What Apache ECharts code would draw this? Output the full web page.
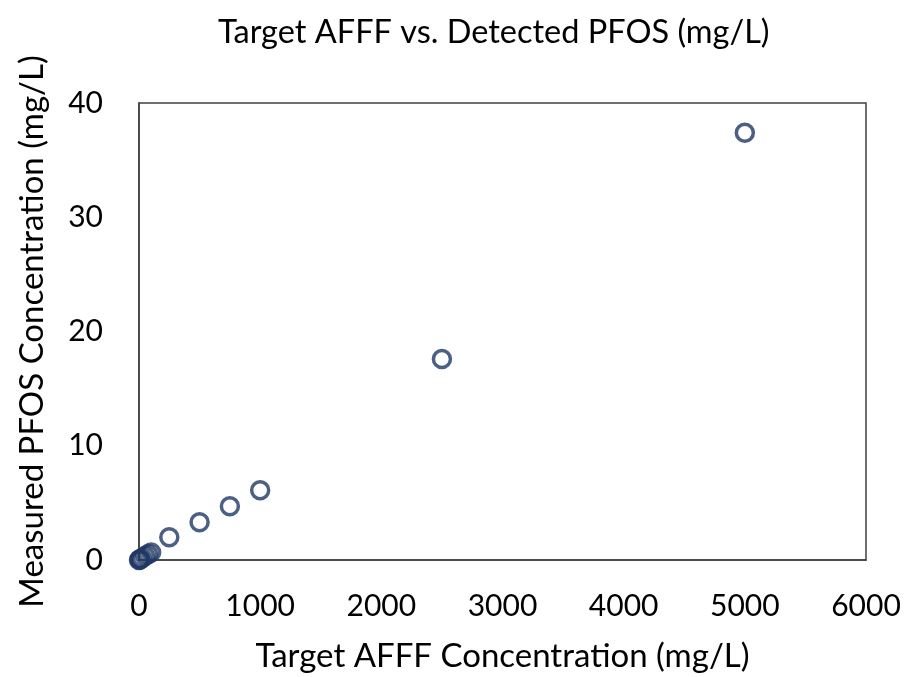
<!DOCTYPE html>
<html>
<head>
<meta charset="utf-8">
<script src="https://cdn.jsdelivr.net/npm/echarts@6/dist/echarts.min.js"></script>
<style>
  html, body { margin: 0; padding: 0; background: #fff; }
  #chart { width: 907px; height: 677px; }
</style>
</head>
<body>
<div id="chart"></div>
<script>
// Target AFFF concentration (mg/L) and measured PFOS concentration (mg/L)
const targetAFFF = [0, 5, 10, 25, 50, 75, 100, 250, 500, 750, 1000, 2500, 5000];
const measuredPFOS = [0, 0.03, 0.07, 0.18, 0.35, 0.5, 0.65, 2.0, 3.3, 4.7, 6.1, 17.6, 37.4];
const xTicks = [0, 1000, 2000, 3000, 4000, 5000, 6000];
const yTicks = [0, 10, 20, 30, 40];

const FONT = 'Lato';
const INK = '#000';
const MARK = '#1F3864';

const chart = echarts.init(document.getElementById('chart'), null, { renderer: 'canvas' });
chart.setOption({
  animation: false,
  backgroundColor: '#fff',
  title: {
    text: 'Target AFFF vs. Detected PFOS (mg/L)',
    left: 213,
    top: 11,
    textStyle: { fontFamily: FONT, fontSize: 32.5, fontWeight: 'normal', color: INK }
  },
  grid: {
    left: 139, right: 41, top: 103, bottom: 117,
    outerBoundsMode: 'none',
    containLabel: false,
    show: true, borderColor: '#404040', borderWidth: 1.5
  },
  xAxis: {
    type: 'value',
    min: xTicks[0], max: xTicks[xTicks.length - 1], interval: 1000,
    name: 'Target AFFF Concentration (mg/L)',
    nameLocation: 'middle', nameGap: 80,
    nameTextStyle: { fontFamily: FONT, fontSize: 33, color: INK },
    axisLine: { show: true, lineStyle: { color: '#404040', width: 1.5 } },
    axisTick: { show: false },
    splitLine: { show: false },
    axisLabel: { fontFamily: FONT, fontSize: 30, color: INK, margin: 31, formatter: v => String(v) }
  },
  yAxis: {
    type: 'value',
    min: yTicks[0], max: yTicks[yTicks.length - 1], interval: 10,
    name: 'Measured PFOS Concentration (mg/L)',
    nameLocation: 'middle', nameGap: 90,
    nameTextStyle: { fontFamily: FONT, fontSize: 33, color: INK },
    axisLine: { show: true, lineStyle: { color: '#404040', width: 1.5 } },
    axisTick: { show: false },
    splitLine: { show: false },
    axisLabel: { fontFamily: FONT, fontSize: 30, color: INK, margin: 36, formatter: v => String(v) }
  },
  series: [{
    type: 'scatter',
    data: targetAFFF.map((x, i) => [x, measuredPFOS[i]]),
    symbol: 'circle',
    symbolSize: 17,
    itemStyle: { color: 'rgba(0,0,0,0)', borderColor: MARK, borderWidth: 3.5 }
  }]
});
</script>
</body>
</html>
